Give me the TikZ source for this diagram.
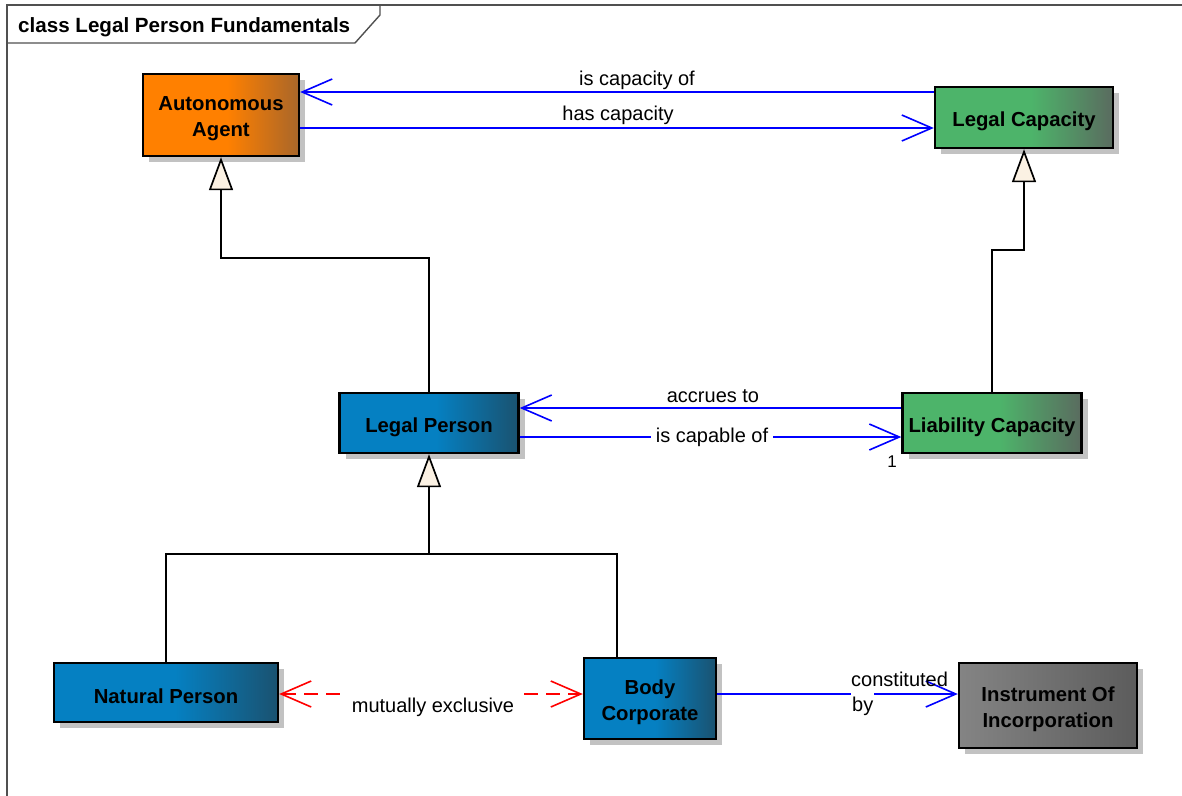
\documentclass[tikz,border=0pt]{standalone}
\usepackage{fontspec}
\setmainfont{Liberation Sans}
\usetikzlibrary{arrows.meta,shadows,calc}
\definecolor{orA}{HTML}{FF8000}
\definecolor{orB}{HTML}{A8662A}
\definecolor{blA}{HTML}{0580C2}
\definecolor{blB}{HTML}{1A5270}
\definecolor{grA}{HTML}{4DB46A}
\definecolor{grB}{HTML}{5A6B5F}
\definecolor{gyA}{HTML}{848484}
\definecolor{gyB}{HTML}{5C5C5C}
\definecolor{cream}{HTML}{FBF1E3}
\definecolor{framegray}{HTML}{505050}
\pgfdeclarehorizontalshading{orsh}{100bp}{color(0bp)=(orA); color(52bp)=(orA); color(75bp)=(orB); color(100bp)=(orB)}
\pgfdeclarehorizontalshading{blsh}{100bp}{color(0bp)=(blA); color(52bp)=(blA); color(75bp)=(blB); color(100bp)=(blB)}
\pgfdeclarehorizontalshading{grsh}{100bp}{color(0bp)=(grA); color(52bp)=(grA); color(75bp)=(grB); color(100bp)=(grB)}
\pgfdeclarehorizontalshading{gysh}{100bp}{color(0bp)=(gyA); color(25bp)=(gyA); color(75bp)=(gyB); color(100bp)=(gyB)}
\tikzset{
  classbox/.style={draw=black, line width=2.4pt, shade, inner sep=0pt,
    drop shadow={shadow xshift=6pt, shadow yshift=-6pt, fill=black!24, opacity=1}},
  ctext/.style={align=center, inner sep=0pt, yshift=-4pt,
    font=\fontsize{20.3}{26}\selectfont\bfseries},
  lbl/.style={font=\fontsize{20}{25}\selectfont, inner sep=0pt},
  assoc/.style={draw=blue, line width=1.6pt, -{Straight Barb[length=30pt,width=26pt,line width=1.6pt]}},
  gen/.style={draw=black, line width=1.7pt},
  gentip/.style={-{Triangle[length=33pt,width=24pt,fill=cream,line width=1.7pt]}},
}
\begin{document}
\begin{tikzpicture}[x=1pt,y=-1pt]
\useasboundingbox (0,0) rectangle (1182,795);
% frame
\draw[framegray, line width=2pt] (7,800) -- (7,5) -- (1190,5);
\draw[framegray, line width=1.4pt] (7,43) -- (355,43) -- (380,15) -- (380,5);
\node[anchor=base west, font=\fontsize{20.6}{25}\selectfont\bfseries, inner sep=0pt] (title) at (18,32) {class Legal Person Fundamentals};
% level coordinates
\coordinate (y92) at (0,92);
\coordinate (y128) at (0,128);
\coordinate (y258) at (0,258);
\coordinate (y250) at (0,250);
\coordinate (y408) at (0,408);
\coordinate (y437) at (0,437);
\coordinate (y554) at (0,554);
\coordinate (y694) at (0,694);
% classes
\node[classbox, shading=orsh, minimum width=156pt, minimum height=82pt, label={[ctext]center:Autonomous\\Agent}] (AA) at (221,115) {};
\node[classbox, shading=grsh, minimum width=178pt, minimum height=61pt, label={[ctext]center:Legal Capacity}] (LC) at (1024,117.5) {};
\node[classbox, shading=blsh, minimum width=179pt, minimum height=60pt, label={[ctext]center:Legal Person}] (LP) at (429,423) {};
\node[classbox, shading=grsh, minimum width=179pt, minimum height=60pt, label={[ctext]center:Liability Capacity}] (LiC) at (992,423) {};
\node[classbox, shading=blsh, minimum width=224pt, minimum height=59pt, label={[ctext]center:Natural Person}] (NP) at (166,692.5) {};
\node[classbox, shading=blsh, minimum width=132pt, minimum height=81pt, label={[ctext]center:Body\\Corporate}] (BC) at (650,698.5) {};
\node[classbox, shading=gysh, minimum width=178pt, minimum height=85pt, label={[ctext]center:Instrument Of\\Incorporation}] (IoI) at (1048,705.5) {};
% associations
\draw[assoc] (LC.west |- y92) -- (AA.east |- y92);
\draw[assoc] (AA.east |- y128) -- (LC.west |- y128);
\node[lbl, anchor=base] (l1) at (637,85) {is capacity of};
\node[lbl, anchor=base] (l2) at (618,120) {has capacity};
\draw[assoc] (LiC.west |- y408) -- (LP.east |- y408);
\draw[assoc] (LP.east |- y437) -- (LiC.west |- y437);
\node[lbl, anchor=base] (l3) at (713,402) {accrues to};
\node[lbl, fill=white, inner xsep=5pt, inner ysep=3pt] (l4) at (712,437) {is capable of};
\node[font=\fontsize{17}{20}\selectfont, inner sep=0pt, anchor=base] (m1) at (892,467) {1};
% generalizations
\draw[gen, gentip] (LP.north) -- (LP.north |- y258) -- (AA.south |- y258) -- (AA.south);
\draw[gen, gentip] (LiC.north) -- (LiC.north |- y250) -- (LC.south |- y250) -- (LC.south);
\coordinate (bcx) at ($(BC.north west)+(34,0)$);
\draw[gen] (NP.north) -- (NP.north |- y554) -- (bcx |- y554) -- (bcx);
\draw[gen, gentip] (LP.south |- y554) -- (LP.south);
% mutually exclusive
\draw[red, line width=1.6pt, dash pattern=on 14pt off 8pt,
  {Straight Barb[length=30pt,width=26pt,line width=1.6pt,sep=0pt]}-{Straight Barb[length=30pt,width=26pt,line width=1.6pt]}]
  (NP.east |- y694) -- (BC.west |- y694);
\node[lbl, anchor=base, fill=white, inner xsep=6pt, inner ysep=5pt] (l5) at (433,712) {mutually exclusive};
% constituted by
\draw[assoc] (BC.east |- y694) -- (IoI.west |- y694);
\node[lbl, anchor=base west] (l6) at (851,686) {constituted};
\node[lbl, anchor=base west, fill=white, inner xsep=1pt, inner ysep=5pt] (l7) at (851,711) {by};
\end{tikzpicture}
\end{document}
